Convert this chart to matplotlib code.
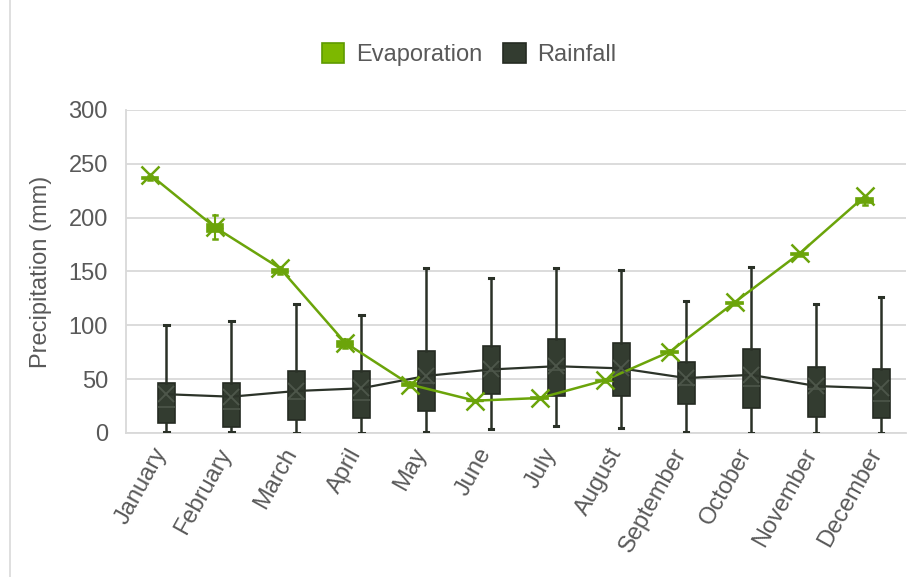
import numpy as np
import matplotlib.pyplot as plt
from matplotlib.patches import Patch
from matplotlib.lines import Line2D

plt.rcParams['font.family'] = ['Liberation Sans', 'DejaVu Sans']

months = ['January', 'February', 'March', 'April', 'May', 'June', 'July',
          'August', 'September', 'October', 'November', 'December']

# Rainfall box stats (mm)
rain_min = [1, 0.5, 0, 0, 1, 3.7, 6.5, 5, 1, 0, 0, 0]
rain_q1 = [9.6, 6, 12, 13.6, 20.7, 36, 34.7, 34.4, 26.6, 23, 14.6, 13.6]
rain_med = [24.5, 22, 32, 30.6, 46, 58, 58.5, 57, 44.6, 43.6, 41, 29.7]
rain_q3 = [46.7, 46, 57.6, 57.6, 76.4, 81, 87, 84, 66, 77.7, 61.6, 59.4]
rain_max = [100, 104, 119.5, 110, 153, 143.6, 153, 151, 123, 154, 120, 126]
rain_mean = [36, 33.7, 39, 41.5, 53, 59, 62, 60, 51, 54, 43.6, 41.5]

# Evaporation box stats (mm)
evap_min = [235, 180, 147.5, 79, 43, 29, 31.5, 47, 73, 119, 164, 212]
evap_q1 = [236, 186.5, 148.5, 80, 44, 29.5, 32, 48, 74, 120, 165, 213.5]
evap_med = [237, 190, 150.5, 82.5, 45, 30, 32.5, 48.5, 75, 121, 166, 215.5]
evap_q3 = [238, 194, 152.5, 85.5, 46, 30.5, 33, 49, 76, 122, 167, 218]
evap_max = [239, 202, 154, 87, 47, 31, 33.5, 50, 77, 123, 168, 219]
evap_mean = [240, 191, 153, 84, 45, 30, 32.5, 49, 75.5, 121.5, 167, 220]

green = '#6BA40A'
green_light = '#7DB800'
dark = '#333C30'
grey_text = '#595959'


def make_stats(mn, q1, med, q3, mx):
    return [dict(whislo=a, q1=b, med=c, q3=d, whishi=e, fliers=[])
            for a, b, c, d, e in zip(mn, q1, med, q3, mx)]


fig = plt.figure(figsize=(9.11, 5.77), dpi=100)
ax = fig.add_axes([0.1383, 0.2496, 0.856, 0.5598])

x = np.arange(len(months))
x_evap = x - 0.13
x_rain = x + 0.12
bw = 0.26

ax.bxp(make_stats(evap_min, evap_q1, evap_med, evap_q3, evap_max),
       positions=x_evap, widths=bw, capwidths=0.07, patch_artist=True,
       showfliers=False, manage_ticks=False,
       boxprops=dict(facecolor=green, edgecolor=green, linewidth=1.2),
       medianprops=dict(color=green, linewidth=1),
       whiskerprops=dict(color=green, linewidth=1.5),
       capprops=dict(color=green, linewidth=1.8), zorder=3)

ax.bxp(make_stats(rain_min, rain_q1, rain_med, rain_q3, rain_max),
       positions=x_rain, widths=bw, capwidths=0.07, patch_artist=True,
       showfliers=False, manage_ticks=False,
       boxprops=dict(facecolor=dark, edgecolor='#252b22', linewidth=1.2),
       medianprops=dict(color='#4d564a', linewidth=1.2),
       whiskerprops=dict(color='#2a3127', linewidth=1.8),
       capprops=dict(color='#2a3127', linewidth=2.2), zorder=3)

# mean lines and markers
ax.plot(x_rain, rain_mean, color='#2c3329', lw=1.6, zorder=4)
ax.plot(x_rain, rain_mean, ls='none', marker='x', ms=12, mew=1.4,
        color='#4d564a', zorder=5)
ax.plot(x_evap, evap_mean, color=green, lw=1.8, zorder=4)
ax.plot(x_evap, evap_mean, ls='none', marker='x', ms=13, mew=1.8,
        color=green, zorder=5)

ax.set_xlim(-0.5, 11.5)
ax.set_ylim(0, 300)
ax.set_yticks(np.arange(0, 301, 50))
ax.yaxis.grid(True, color='#D9D9D9', lw=1.3)
ax.set_axisbelow(True)
for s in ['top', 'right']:
    ax.spines[s].set_visible(False)
ax.spines['left'].set_color('#D9D9D9')
ax.spines['bottom'].set_color('#D9D9D9')
ax.spines['left'].set_linewidth(1.3)
ax.spines['bottom'].set_linewidth(1.3)
ax.tick_params(length=0, labelsize=17, colors=grey_text)
ax.tick_params(axis='y', pad=13)
ax.tick_params(axis='x', pad=12)

ax.set_xticks(x + 0.05)
ax.set_xticklabels(months, rotation=61, ha='right', va='center',
                   rotation_mode='anchor', fontsize=17, color=grey_text)

ax.set_ylabel('Precipitation (mm)', fontsize=17, color=grey_text, labelpad=12)

handles = [Patch(facecolor=green_light, edgecolor='#5e9a00', lw=1.2),
           Patch(facecolor=dark, edgecolor='#252b22', lw=1.2)]
fig.legend(handles, ['Evaporation', 'Rainfall'], loc='center',
           bbox_to_anchor=(0.515, 0.906), ncol=2, frameon=False,
           fontsize=17, labelcolor=grey_text, handlelength=0.95,
           handleheight=0.95, handletextpad=0.5, columnspacing=0.9)

fig.add_artist(Line2D([10 / 911, 10 / 911], [0, 1], color='#D9D9D9',
                      lw=1.2, transform=fig.transFigure))

fig.savefig('out.png', dpi=100)
